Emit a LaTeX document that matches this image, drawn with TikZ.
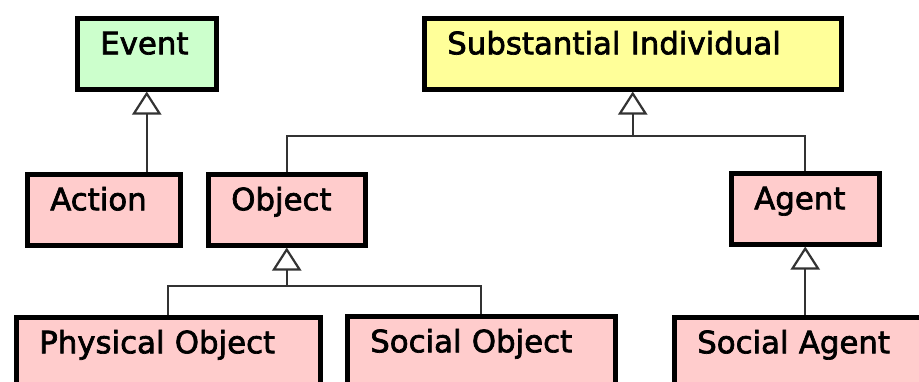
\documentclass[tikz,border=0pt]{standalone}
\usepackage{fontspec}
\setmainfont{DejaVu Sans}
\newfontfamily\boxfont{DejaVu Sans}[FakeBold=2.2]
\usetikzlibrary{arrows.meta}
\definecolor{evgreen}{HTML}{CCFFCC}
\definecolor{subyellow}{HTML}{FFFF99}
\definecolor{kindpink}{HTML}{FFCCCC}
\begin{document}
\begin{tikzpicture}[x=1pt,y=-1pt,
  umlclass/.style={draw=black, line width=4.5pt, anchor=north west,
    inner xsep=23pt, inner ysep=0pt, align=left,
    text height=36pt, text depth=35pt,
    font=\boxfont\fontsize{30.8}{36}\selectfont},
  openbox/.style={umlclass, text depth=80pt},
  link/.style={draw=black!80, line width=2.2pt},
  gen/.style={link, -{Triangle[open, length=23pt, width=29pt, line width=2.2pt]}}
]
\clip (0,0) rectangle (919,381);
\fill[white] (0,0) rectangle (919,381);

% top level categories
\node[umlclass, fill=evgreen, text width=93pt] (event) at (75,16) {Event};
\node[umlclass, fill=subyellow, text width=371pt] (subst) at (422,16) {Substantial Individual};

% second level
\node[umlclass, fill=kindpink, text width=107pt] (action) at (25,172) {Action};
\node[umlclass, fill=kindpink, text width=111pt] (object) at (206,172) {Object};
\node[umlclass, fill=kindpink, text width=102pt] (agent) at (729,171) {Agent};

% third level (running past the lower edge)
\node[openbox, fill=kindpink, text width=258pt] (phys) at (14,315) {Physical Object};
\node[openbox, fill=kindpink, text width=222pt] (soc) at (345,314) {Social Object};
\node[openbox, fill=kindpink, text width=218pt] (socagent) at (672,315) {Social Agent};

% generalisation: Action -> Event
\draw[gen] (action.north -| event.south) -- (event.south);

% generalisation: Object, Agent -> Substantial Individual
\coordinate (busA) at (subst.south |- 0,136);
\draw[link] (object.north) |- (busA) -| (agent.north);
\draw[gen] (busA) -- (subst.south);

% generalisation: Physical Object, Social Object -> Object
\coordinate (busB) at (object.south |- 0,286);
\draw[link] (phys.north) |- (busB) -| (soc.north);
\draw[gen] (busB) -- (object.south);

% generalisation: Social Agent -> Agent
\draw[gen] (socagent.north -| agent.south) -- (agent.south);
\end{tikzpicture}
\end{document}
